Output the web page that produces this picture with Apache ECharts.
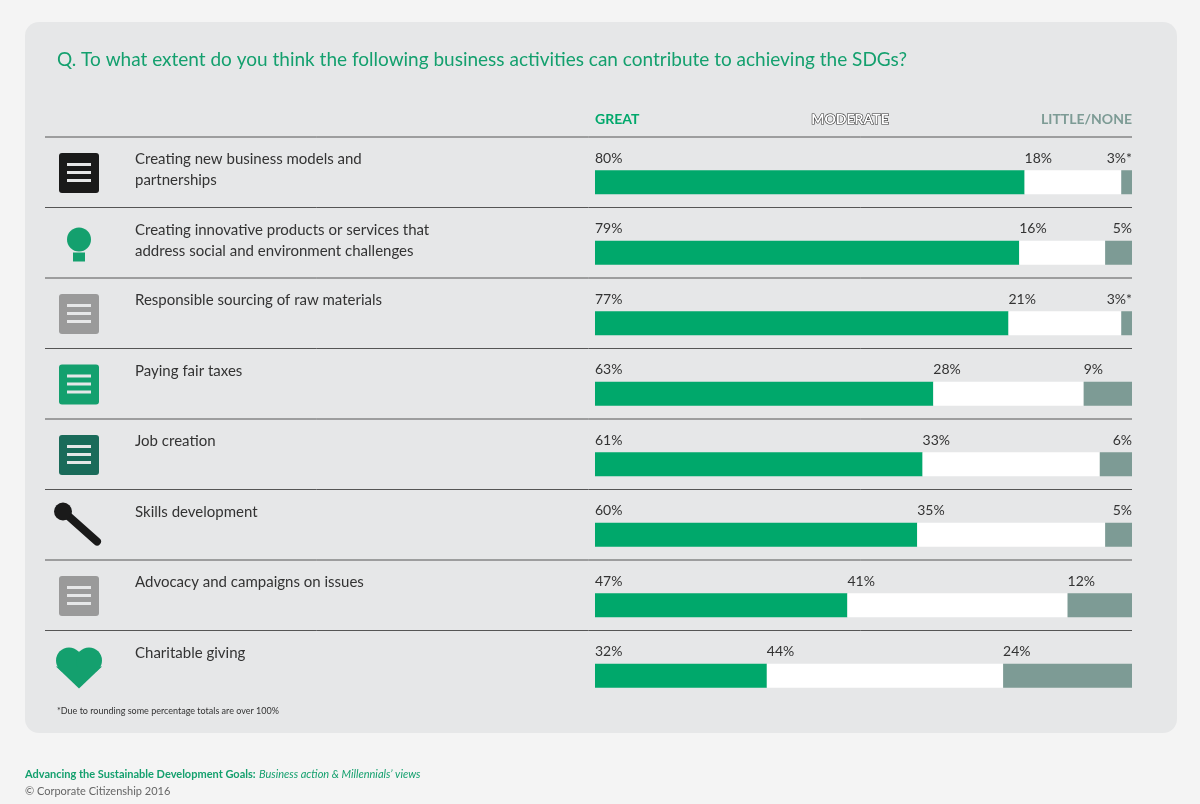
<!DOCTYPE html>
<html><head><meta charset="utf-8">
<script src="https://cdn.jsdelivr.net/npm/echarts@6/dist/echarts.min.js"></script>
<style>html,body{margin:0;padding:0;background:#f4f4f4;}#c{width:1200px;height:804px;}</style>
</head><body><div id="c"></div>
<script>
const categories = [
  "Creating new business models and\npartnerships",
  "Creating innovative products or services that\naddress social and environment challenges",
  "Responsible sourcing of raw materials",
  "Paying fair taxes",
  "Job creation",
  "Skills development",
  "Advocacy and campaigns on issues",
  "Charitable giving"
];
const great = [80, 79, 77, 63, 61, 60, 47, 32];
const moderate = [18, 16, 21, 28, 33, 35, 41, 44];
const little = [3, 5, 3, 9, 6, 5, 12, 24];
const littleMark = ["*", "", "*", "", "", "", "", ""];

const GREEN = '#00a86b', GRAY = '#7d9b95', FONT = 'Lato, "Open Sans", sans-serif';
const ROW0 = 137, PITCH = 70.5;
const iconColors = ['#1a1a1a', '#14a06e', '#9a9a9a', '#14a06e', '#1a6b5a', '#1a1a1a', '#9a9a9a', '#14a06e'];

const graphics = [
  {type:'rect', shape:{x:25,y:22,width:1152,height:711,r:14}, style:{fill:'#e6e7e8'}, z:-10},
  {type:'text', left:57, top:50, style:{text:'Q. To what extent do you think the following business activities can contribute to achieving the SDGs?', fill:'#14a06e', font:'19px '+FONT}},
  {type:'text', x:595, y:112, style:{text:'GREAT', fill:GREEN, font:'bold 14px '+FONT}},
  {type:'text', x:850, y:112, style:{text:'MODERATE', fill:'#fff', stroke:'#333', lineWidth:1.2, font:'bold 14px '+FONT, align:'center'}},
  {type:'text', x:1132, y:112, style:{text:'LITTLE/NONE', fill:'#7d9b95', font:'bold 14px '+FONT, align:'right'}},
  {type:'text', x:57, y:707, style:{text:'*Due to rounding some percentage totals are over 100%', fill:'#333', font:'9px '+FONT}},
  {type:'text', x:25, y:768, style:{text:'{b|Advancing the Sustainable Development Goals:} {i|Business action & Millennials\u2019 views}', rich:{b:{fill:'#14a06e',font:'bold 11px '+FONT},i:{fill:'#14a06e',font:'italic 11px '+FONT}}}},
  {type:'text', x:25, y:786, style:{text:'\u00a9 Corporate Citizenship 2016', fill:'#666', font:'11px '+FONT}}
];
categories.forEach((c, i) => {
  const y = ROW0 + PITCH * i;
  graphics.push({type:'line', shape:{x1:45,y1:y,x2:1132,y2:y}, style:{stroke:'#555',lineWidth:1}});
  graphics.push({type:'text', x:135, y:y+12, style:{text:c, fill:'#333', font:'15px '+FONT, lineHeight:21}});
  // simple icon placeholder
  const col = iconColors[i], cx = 79, cy = y + 36;
  if (i === 7) {
    graphics.push({type:'circle', shape:{cx:cx-10,cy:cy-6,r:13}, style:{fill:col}});
    graphics.push({type:'circle', shape:{cx:cx+10,cy:cy-6,r:13}, style:{fill:col}});
    graphics.push({type:'polygon', shape:{points:[[cx-23,cy],[cx+23,cy],[cx,cy+22]]}, style:{fill:col}});
  } else if (i === 1) {
    graphics.push({type:'circle', shape:{cx:cx,cy:cy-4,r:12}, style:{fill:col}});
    graphics.push({type:'rect', shape:{x:cx-6,y:cy+9,width:12,height:9}, style:{fill:col}});
  } else if (i === 5) {
    graphics.push({type:'line', shape:{x1:cx-18,y1:cy-16,x2:cx+18,y2:cy+16}, style:{stroke:col,lineWidth:8,lineCap:'round'}});
    graphics.push({type:'circle', shape:{cx:cx-16,cy:cy-14,r:9}, style:{fill:col}});
  } else {
    graphics.push({type:'rect', shape:{x:cx-20,y:cy-20,width:40,height:40,r:3}, style:{fill:col}});
    graphics.push({type:'rect', shape:{x:cx-12,y:cy-10,width:24,height:3}, style:{fill:'#e6e7e8'}});
    graphics.push({type:'rect', shape:{x:cx-12,y:cy-2,width:24,height:3}, style:{fill:'#e6e7e8'}});
    graphics.push({type:'rect', shape:{x:cx-12,y:cy+6,width:24,height:3}, style:{fill:'#e6e7e8'}});
  }
});

const chart = echarts.init(document.getElementById('c'));
const lbl = {color:'#333', fontSize:14, fontFamily:FONT, align:'left', verticalAlign:'bottom', position:[0,-5]};
chart.setOption({
  animation:false,
  grid:{left:595, right:68, top:ROW0+10, height:PITCH*8},
  xAxis:{type:'value', min:0, max:100, show:false},
  yAxis:{type:'category', data:categories, inverse:true, show:false},
  graphic:graphics,
  series:[
    {type:'bar', stack:'a', data:great, barWidth:24, itemStyle:{color:GREEN}, label:{show:true, ...lbl, formatter:p=>p.value+'%'}},
    {type:'bar', stack:'a', data:moderate, barWidth:24, itemStyle:{color:'#fff'}, label:{show:true, ...lbl, formatter:p=>p.value+'%'}},
    {type:'bar', stack:'a', barWidth:24, itemStyle:{color:GRAY},
     data: little.map((v,i)=>({value:v, label: v>=9 ? {position:[0,-5], align:'left'} : {position:['100%',-5], align:'right'}})),
     label:{show:true, ...lbl, formatter:p=>p.value+'%'+littleMark[p.dataIndex]}}
  ]
});
</script></body></html>
